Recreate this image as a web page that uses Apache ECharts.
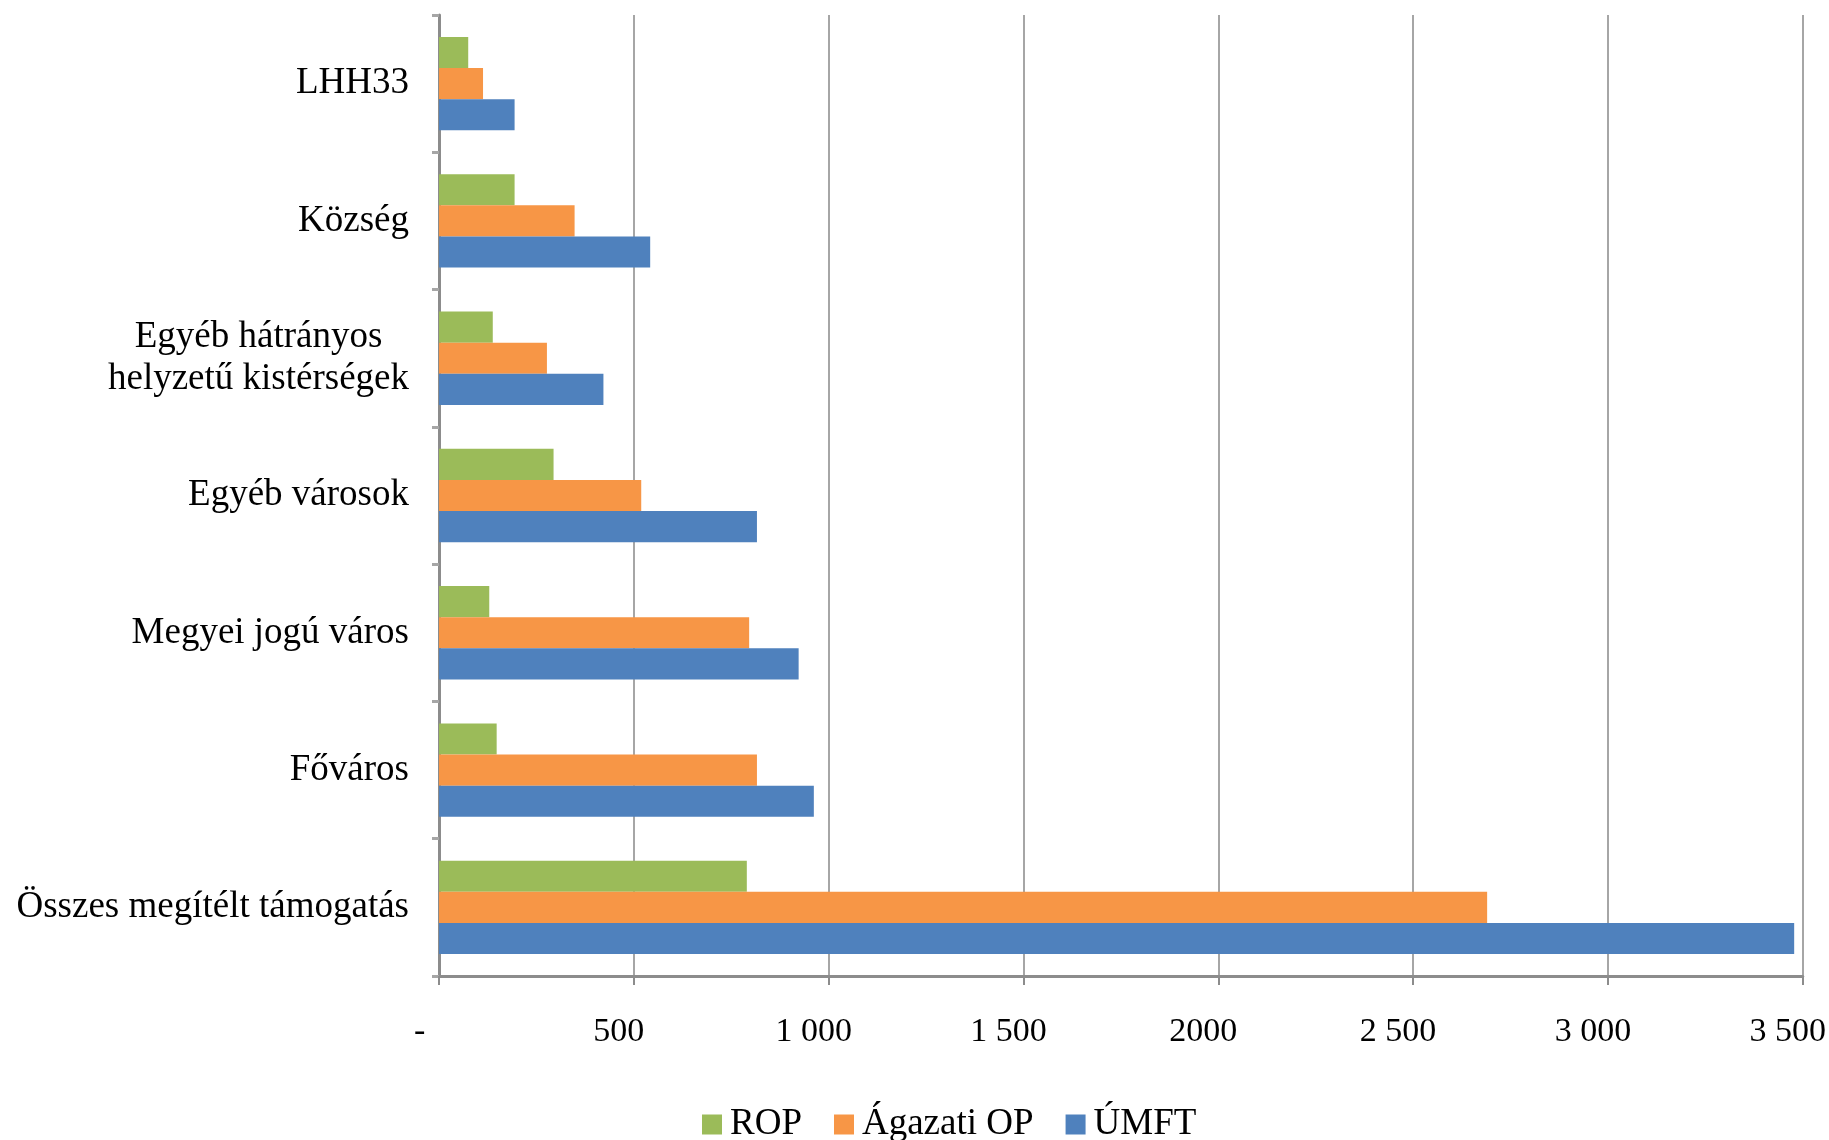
<!DOCTYPE html>
<html>
<head>
<meta charset="utf-8">
<script src="https://cdn.jsdelivr.net/npm/echarts@6/dist/echarts.min.js"></script>
<style>html,body{margin:0;padding:0;background:#fff}#c{width:1829px;height:1140px}</style>
</head>
<body>
<div id="c"></div>
<script>
// Categories, bottom to top
const categories = [
  'Összes megítélt támogatás',
  'Főváros',
  'Megyei jogú város',
  'Egyéb városok',
  'Egyéb hátrányos\nhelyzetű kistérségek',
  'Község',
  'LHH33'
];
const seriesNames = ['ROP', 'Ágazati OP', 'ÚMFT'];
const ropValues     = [790, 148, 129, 294, 138, 194, 75];
const agazatiValues = [2690, 816, 796, 519, 277, 348, 113];
const umftValues    = [3478, 962, 923, 816, 422, 542, 194];
const xTickLabels = {0: '-\u00a0', 500: '500', 1000: '1 000', 1500: '1 500', 2000: '2000', 2500: '2 500', 3000: '3 000', 3500: '3 500'};

const colors = ['#9BBB59', '#F79646', '#4F81BD'];
const font = '"Liberation Serif", "DejaVu Serif", serif';

const chart = echarts.init(document.getElementById('c'));
const valuesList = [ropValues, agazatiValues, umftValues];

chart.setOption({
  animation: false,
  color: colors,
  grid: {left: 439, right: 26, top: 15, bottom: 164, containLabel: false},
  legend: {
    left: 697, top: 1101,
    itemWidth: 20, itemHeight: 20, itemGap: 32,
    icon: 'rect',
    textStyle: {fontFamily: font, fontSize: 37, color: '#000', padding: [0, 0, 0, 3]},
    data: seriesNames
  },
  xAxis: {
    type: 'value', min: 0, max: 3500, interval: 500,
    axisLine: {show: true, lineStyle: {color: '#8c8c8c', width: 3}},
    axisTick: {show: true, length: 9, lineStyle: {color: '#8c8c8c', width: 2}},
    splitLine: {show: true, lineStyle: {color: '#a6a6a6', width: 2}},
    axisLabel: {
      margin: 39, fontFamily: font, fontSize: 34, color: '#000',
      padding: [0, 30, 0, 0],
      formatter: v => (xTickLabels[v] || '')
    }
  },
  yAxis: {
    type: 'category', data: categories,
    axisLine: {show: true, lineStyle: {color: '#8c8c8c', width: 3}},
    axisTick: {show: true, length: 7, lineStyle: {color: '#a6a6a6', width: 3}},
    axisLabel: {
      margin: 30, fontFamily: font, fontSize: 37, color: '#000', lineHeight: 42,
      formatter: v => v.split('\n').map(s => '{c|' + s + '}').join('\n'),
      rich: {c: {align: 'center', fontFamily: font, fontSize: 37, color: '#000', lineHeight: 42}}
    }
  },
  series: seriesNames.map((n, i) => ({
    name: n, type: 'bar', data: valuesList[i],
    barGap: '0%', barCategoryGap: '32%'
  }))
});
</script>
</body>
</html>
